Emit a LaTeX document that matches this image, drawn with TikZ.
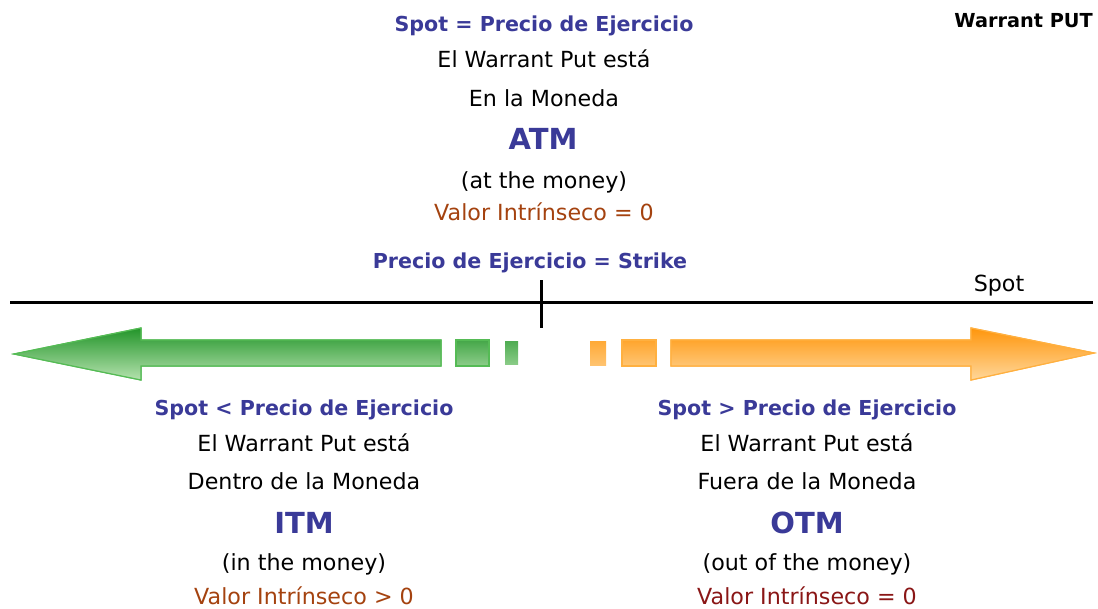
\documentclass[tikz,border=0pt]{standalone}
\usepackage{fontspec}
\setmainfont{DejaVu Sans}
\definecolor{tblue}{HTML}{3A3A98}
\definecolor{tbrown}{HTML}{A4420F}
\definecolor{tdred}{HTML}{8A1616}
\definecolor{gtop}{HTML}{23952A}
\definecolor{gbot}{HTML}{B5E2AE}
\definecolor{gedge}{HTML}{55BB55}
\definecolor{otop}{HTML}{FF960C}
\definecolor{obot}{HTML}{FFD79A}
\definecolor{oedge}{HTML}{FFB040}
\begin{document}
\begin{tikzpicture}[x=1pt,y=-1pt,
  reg/.style={anchor=base,inner sep=0pt,font=\fontsize{22.2}{26}\selectfont},
  hb/.style={anchor=base,inner sep=0pt,text=tblue,font=\fontsize{20.6}{24}\selectfont\bfseries},
  big/.style={anchor=base,inner sep=0pt,text=tblue,font=\fontsize{29}{33}\selectfont\bfseries},
  val/.style={reg,text=tbrown},
  garrow/.style={top color=gtop,bottom color=gbot,draw=gedge,line width=1.2pt},
  gpiece/.style={top color=gtop!77!gbot,bottom color=gtop!27!gbot,draw=gedge,line width=1.2pt},
  oarrow/.style={top color=otop,bottom color=obot,draw=oedge,line width=1.2pt},
  opiece/.style={top color=otop!77!obot,bottom color=otop!27!obot,draw=oedge,line width=1.2pt}]
\useasboundingbox (0,0) rectangle (1098,608);

% title
\node[anchor=base east,inner sep=0pt,font=\fontsize{19.3}{23}\selectfont\bfseries] (title) at (1093,27) {Warrant PUT};

% top column
\node[hb] (t1) at (544,31) {Spot = Precio de Ejercicio};
\node[reg] (t2) at (544,67.5) {El Warrant Put está};
\node[reg] (t3) at (544,106) {En la Moneda};
\node[big] (t4) at (543,149.5) {ATM};
\node[reg] (t5) at (544,188) {(at the money)};
\node[val] (t6) at (544,220) {Valor Intrínseco = 0};
\node[hb] (strike) at (530,268) {Precio de Ejercicio = Strike};

% axis
\coordinate (a0) at (10,302);
\coordinate (a1) at (1093,302);
\draw[line width=3pt] (a0) -- (a1);
\coordinate (k0) at (541,280);
\coordinate (k1) at (541,328);
\draw[line width=3pt] (k0) -- (k1);
\node[reg] (spot) at (999,291) {Spot};

% green arrow
\shade[garrow] (441,340) -- (141,340) -- (141,328) -- (14,354) -- (141,380) -- (141,366) -- (441,366) -- cycle;
\draw[garrow] (441,340) -- (141,340) -- (141,328) -- (14,354) -- (141,380) -- (141,366) -- (441,366) -- cycle;
\shade[gpiece] (456,340) rectangle (489,366);
\draw[gpiece] (456,340) rectangle (489,366);
\shade[top color=gtop!70!gbot,bottom color=gtop!30!gbot] (505,341) rectangle (518,364);

% orange arrow
\shade[top color=otop!70!obot,bottom color=otop!30!obot] (590,341) rectangle (606,365);
\shade[opiece] (622,340) rectangle (656,366);
\draw[opiece] (622,340) rectangle (656,366);
\shade[oarrow] (671,340) -- (971,340) -- (971,328) -- (1094,353) -- (971,380) -- (971,366) -- (671,366) -- cycle;
\draw[oarrow] (671,340) -- (971,340) -- (971,328) -- (1094,353) -- (971,380) -- (971,366) -- (671,366) -- cycle;

% bottom left
\node[hb] (l1) at (304,415.5) {Spot < Precio de Ejercicio};
\node[reg] (l2) at (304,451) {El Warrant Put está};
\node[reg] (l3) at (304,489) {Dentro de la Moneda};
\node[big] (l4) at (304,533.5) {ITM};
\node[reg] (l5) at (304,570) {(in the money)};
\node[val] (l6) at (304,604) {Valor Intrínseco > 0};

% bottom right
\node[hb] (r1) at (807,415.5) {Spot > Precio de Ejercicio};
\node[reg] (r2) at (807,451) {El Warrant Put está};
\node[reg] (r3) at (807,489) {Fuera de la Moneda};
\node[big] (r4) at (807,533.5) {OTM};
\node[reg] (r5) at (807,570) {(out of the money)};
\node[reg,text=tdred] (r6) at (807,604) {Valor Intrínseco = 0};
\end{tikzpicture}
\end{document}
